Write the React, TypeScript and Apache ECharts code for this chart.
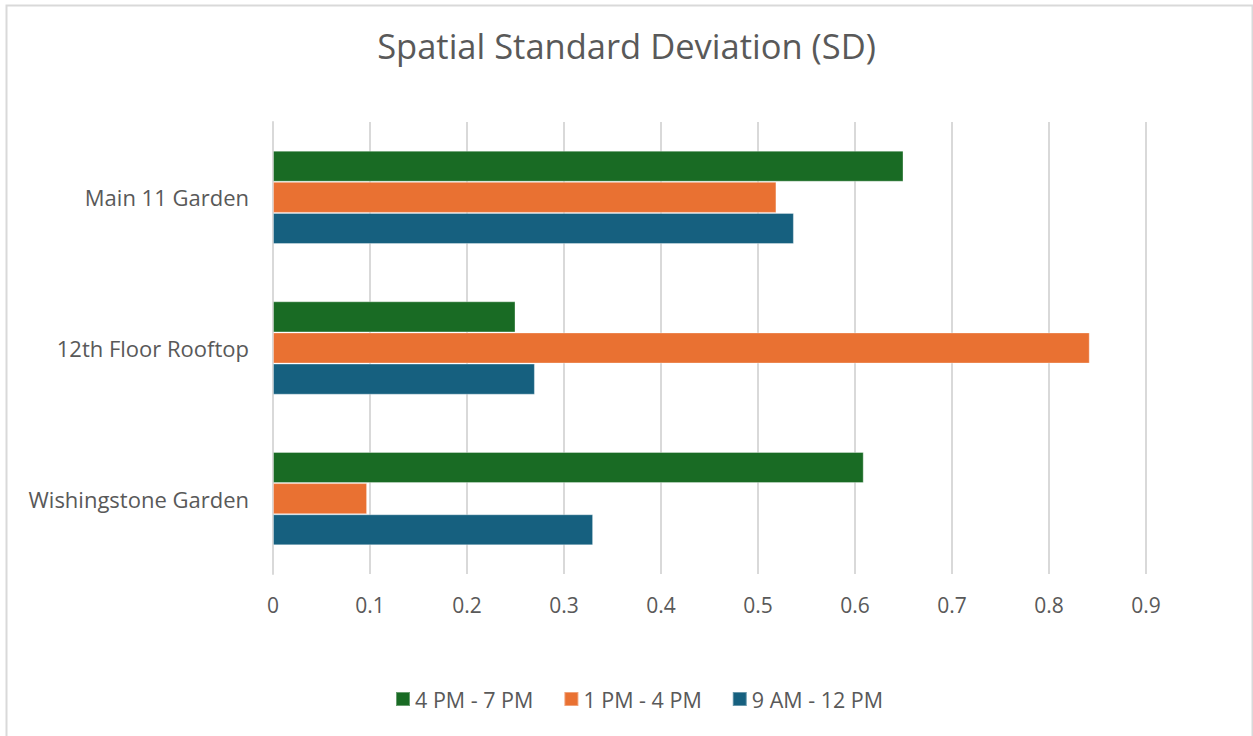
import React, { useEffect, useRef } from "react";
import * as echarts from "echarts";

const categories = ["Wishingstone Garden", "12th Floor Rooftop", "Main 11 Garden"];
const seriesNames = ["4 PM - 7 PM", "1 PM - 4 PM", "9 AM - 12 PM"];
const pm4to7 = [0.609, 0.25, 0.65];
const pm1to4 = [0.097, 0.842, 0.519];
const am9to12 = [0.33, 0.27, 0.537];
const colors = ["#196b24", "#e97132", "#16607f"];
const xTicks = [0, 0.1, 0.2, 0.3, 0.4, 0.5, 0.6, 0.7, 0.8, 0.9];

const FONT = "'Open Sans', 'Noto Sans', sans-serif";
const TEXT = "#595959";

export default function App() {
  const ref = useRef<HTMLDivElement>(null);
  useEffect(() => {
    if (!ref.current) return;
    const chart = echarts.init(ref.current, undefined, { renderer: "svg" });
    const values = [pm4to7, pm1to4, am9to12];
    chart.setOption({
      animation: false,
      backgroundColor: "#ffffff",
      textStyle: { fontFamily: FONT },
      graphic: [
        {
          type: "rect",
          shape: { x: 6.5, y: 5.5, width: 1246, height: 740 },
          style: { fill: "none", stroke: "#d9d9d9", lineWidth: 2 },
          silent: true,
        },
      ],
      title: {
        text: "Spatial Standard Deviation (SD)",
        left: "center",
        top: 23,
        textStyle: { fontFamily: FONT, fontSize: 34.5, fontWeight: "normal", color: TEXT },
      },
      legend: {
        data: seriesNames,
        bottom: 21,
        left: 390,
        itemWidth: 14,
        itemHeight: 14,
        itemGap: 30,
        icon: "rect",
        textStyle: { fontFamily: FONT, fontSize: 21.5, color: TEXT },
      },
      grid: { left: 273, right: 107, top: 122, bottom: 162, containLabel: false },
      xAxis: {
        type: "value",
        min: xTicks[0],
        max: xTicks[xTicks.length - 1],
        interval: 0.1,
        axisLine: { show: false },
        axisTick: { show: false },
        splitLine: { show: true, lineStyle: { color: "#d9d9d9", width: 2 } },
        axisLabel: {
          fontFamily: FONT,
          fontSize: 21,
          color: TEXT,
          margin: 20,
          formatter: (v: number) => String(Math.round(v * 10) / 10),
        },
      },
      yAxis: {
        type: "category",
        data: categories,
        axisLine: { show: true, lineStyle: { color: "#d9d9d9", width: 2 } },
        axisTick: { show: false },
        axisLabel: { fontFamily: FONT, fontSize: 22, color: TEXT, margin: 24 },
      },
      series: seriesNames.map((name, i) => ({
        name,
        type: "bar",
        data: values[i],
        barGap: "0%",
        barCategoryGap: "38%",
        itemStyle: {
          color: colors[i],
          borderColor: "rgba(255,255,255,0.35)",
          borderWidth: 1,
        },
      })),
    });
    return () => chart.dispose();
  }, []);
  return (
    <div
      ref={ref}
      style={{ position: "fixed", left: 0, top: 0, width: 1253, height: 736 }}
    />
  );
}
